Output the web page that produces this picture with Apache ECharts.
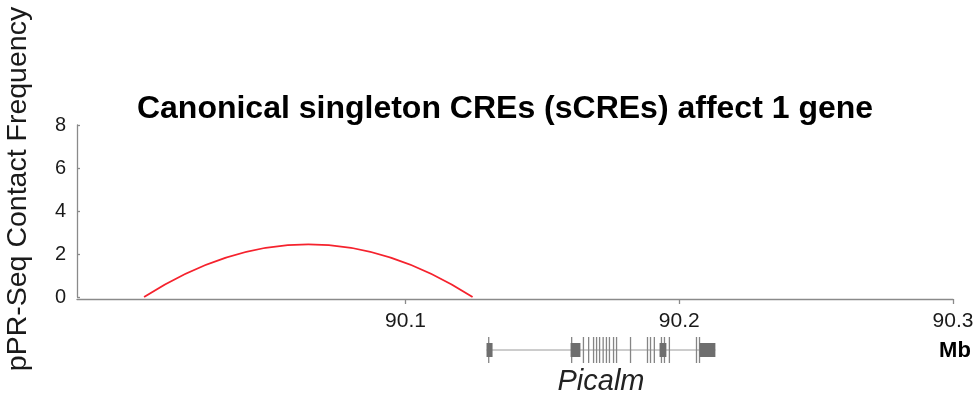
<!DOCTYPE html>
<html>
<head>
<meta charset="utf-8">
<script src="https://cdn.jsdelivr.net/npm/echarts@6/dist/echarts.min.js"></script>
<style>
html,body{margin:0;padding:0;background:#fff;}
#c{width:980px;height:396px;}
</style>
</head>
<body>
<div id="c"></div>
<script>
// ---- data ----
const titleText = 'Canonical singleton CREs (sCREs) affect 1 gene';
const yAxisName = 'pPR-Seq Contact Frequency';
const xUnit = 'Mb';
const geneName = 'Picalm';
const xMin = 89.98, xMax = 90.3;
const xTickValues = [90.1, 90.2, 90.3];
const yTickMin = 0, yTickMax = 8, yTickStep = 2;
// contact arcs: start (Mb), end (Mb), peak contact frequency
const arcStart = [90.0045];
const arcEnd = [90.1245];
const arcPeak = [2.45];
// gene model (Mb)
const geneSpan = [[90.1296, 90.2132]];
const exonBoxes = [[90.1296, 90.1318], [90.1603, 90.1639], [90.1928, 90.1953], [90.2074, 90.2132]];
const exonLines = [90.1304, 90.1607, 90.1650, 90.1669, 90.1687, 90.1698, 90.1709, 90.1722, 90.1734, 90.1745, 90.1760, 90.1771,
  90.1822, 90.1884, 90.1895, 90.1909, 90.1935, 90.1946, 90.1964, 90.2063, 90.2074];

const FONT = '"Liberation Sans", Arial, Helvetica, sans-serif';
const chart = echarts.init(document.getElementById('c'), null, {renderer: 'canvas'});

const arcData = arcStart.map((s, i) => [s, arcEnd[i], arcPeak[i]]);

const option = {
  backgroundColor: '#ffffff',
  animation: false,
  title: {
    text: titleText,
    left: 500, top: 88, textAlign: 'center',
    textStyle: {fontFamily: FONT, fontWeight: 'bold', fontSize: 32, color: '#000'}
  },
  grid: [
    {left: 77, right: 27, top: 125, bottom: 99},
    {left: 77, right: 27, top: 337, height: 26}
  ],
  xAxis: [
    {
      type: 'value', gridIndex: 0, min: xMin, max: xMax, offset: 2,
      splitLine: {show: false},
      axisLine: {show: true, onZero: false, lineStyle: {color: '#8a8a8a', width: 1.3}},
      axisTick: {show: true, inside: false, length: 5, customValues: xTickValues, lineStyle: {color: '#8a8a8a', width: 1.3}},
      axisLabel: {show: true, margin: 12, customValues: xTickValues, color: '#1a1a1a', fontFamily: FONT, fontSize: 21,
        formatter: v => v.toFixed(1)}
    },
    {type: 'value', gridIndex: 1, min: xMin, max: xMax, show: false}
  ],
  yAxis: [
    {
      type: 'value', gridIndex: 0, min: yTickMin, max: yTickMax, interval: yTickStep,
      splitLine: {show: false},
      axisLine: {show: true, lineStyle: {color: '#8a8a8a', width: 1.3}},
      axisTick: {show: true, inside: true, length: 3, lineStyle: {color: '#8a8a8a', width: 1.3}},
      axisLabel: {margin: 11, color: '#1a1a1a', fontFamily: FONT, fontSize: 20}
    },
    {type: 'value', gridIndex: 1, min: -1, max: 1, show: false}
  ],
  graphic: [
    {type: 'text', x: 18, y: 189, rotation: Math.PI / 2,
      style: {text: yAxisName, fontFamily: FONT, fontSize: 28.5, fill: '#1a1a1a', align: 'center', verticalAlign: 'middle'}},
    {type: 'text', x: 955, y: 351,
      style: {text: xUnit, fontFamily: FONT, fontWeight: 'bold', fontSize: 22, fill: '#000', align: 'center', verticalAlign: 'middle'}},
    {type: 'text', x: 601, y: 382,
      style: {text: geneName, fontFamily: FONT, fontStyle: 'italic', fontSize: 29, fill: '#222', align: 'center', verticalAlign: 'middle'}}
  ],
  series: [
    {
      type: 'custom', xAxisIndex: 0, yAxisIndex: 0, data: arcData,
      encode: {x: [0, 1], y: 2},
      renderItem: (params, api) => {
        const s = api.value(0), e = api.value(1), h = api.value(2);
        const p0 = api.coord([s, 0]), p1 = api.coord([e, 0]);
        const cp = api.coord([(s + e) / 2, 2 * h]);
        return {type: 'path',
          shape: {pathData: 'M' + p0[0] + ' ' + p0[1] + ' Q' + cp[0] + ' ' + cp[1] + ' ' + p1[0] + ' ' + p1[1]},
          style: {stroke: '#f5222d', lineWidth: 1.8, fill: null}};
      }
    },
    {
      type: 'custom', xAxisIndex: 1, yAxisIndex: 1, data: geneSpan, encode: {x: [0, 1]},
      renderItem: (params, api) => {
        const a = api.coord([api.value(0), 0]), b = api.coord([api.value(1), 0]);
        return {type: 'line', shape: {x1: a[0], y1: a[1], x2: b[0], y2: b[1]},
          style: {stroke: '#9a9a9a', lineWidth: 1}};
      }
    },
    {
      type: 'custom', xAxisIndex: 1, yAxisIndex: 1, data: exonLines.map(v => [v]), encode: {x: 0},
      renderItem: (params, api) => {
        const c = api.coord([api.value(0), 0]);
        return {type: 'line', shape: {x1: c[0], y1: c[1] - 13, x2: c[0], y2: c[1] + 13},
          style: {stroke: '#858585', lineWidth: 1.3}};
      }
    },
    {
      type: 'custom', xAxisIndex: 1, yAxisIndex: 1, data: exonBoxes, encode: {x: [0, 1]},
      renderItem: (params, api) => {
        const a = api.coord([api.value(0), 0]), b = api.coord([api.value(1), 0]);
        return {type: 'rect', shape: {x: a[0], y: a[1] - 7, width: b[0] - a[0], height: 14},
          style: {fill: '#6e6e6e'}};
      }
    }
  ]
};
chart.setOption(option);
</script>
</body>
</html>
